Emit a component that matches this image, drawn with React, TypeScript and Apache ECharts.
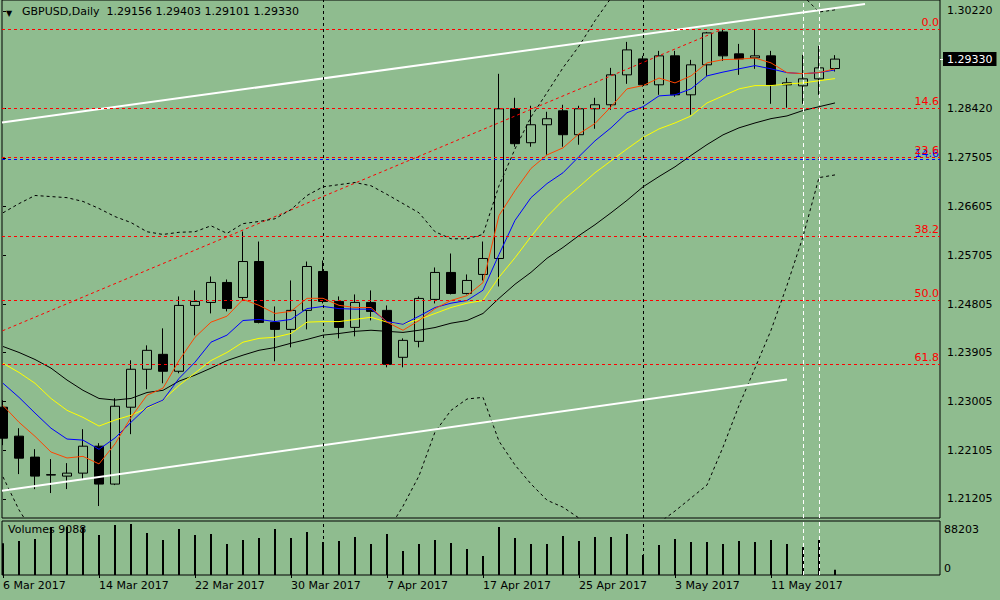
import React, { useEffect, useRef } from "react";
import * as echarts from "echarts";

const FONT = '"DejaVu Sans", sans-serif';

const dates = [
  "6 Mar 2017","7 Mar 2017","8 Mar 2017","9 Mar 2017","10 Mar 2017",
  "13 Mar 2017","14 Mar 2017","15 Mar 2017","16 Mar 2017","17 Mar 2017",
  "20 Mar 2017","21 Mar 2017","22 Mar 2017","23 Mar 2017","24 Mar 2017",
  "27 Mar 2017","28 Mar 2017","29 Mar 2017","30 Mar 2017","31 Mar 2017",
  "3 Apr 2017","4 Apr 2017","5 Apr 2017","6 Apr 2017","7 Apr 2017",
  "10 Apr 2017","11 Apr 2017","12 Apr 2017","13 Apr 2017","14 Apr 2017",
  "17 Apr 2017","18 Apr 2017","19 Apr 2017","20 Apr 2017","21 Apr 2017",
  "24 Apr 2017","25 Apr 2017","26 Apr 2017","27 Apr 2017","28 Apr 2017",
  "1 May 2017","2 May 2017","3 May 2017","4 May 2017","5 May 2017",
  "8 May 2017","9 May 2017","10 May 2017","11 May 2017","12 May 2017",
  "15 May 2017","16 May 2017","17 May 2017",
];
const dateTicks = [0, 6, 12, 18, 24, 30, 36, 42, 48];

const open = [1.22898,1.22363,1.21976,1.21644,1.21625,1.2168,1.22178,1.21478,1.22898,1.23599,1.23875,1.23562,1.24779,1.24834,1.25203,1.24926,1.2559,1.24465,1.24336,1.24687,1.25406,1.24853,1.24373,1.24834,1.24687,1.2382,1.24115,1.2489,1.25388,1.25,1.25351,1.25646,1.28412,1.27785,1.28117,1.28375,1.27933,1.28412,1.28486,1.29039,1.29334,1.28855,1.2939,1.2867,1.29224,1.29832,1.29427,1.29353,1.2939,1.28855,1.28836,1.28965,1.29156];
const high = [1.23027,1.2251,1.22123,1.21939,1.21865,1.22492,1.22234,1.23064,1.23765,1.24041,1.24355,1.24945,1.25056,1.25314,1.25258,1.26144,1.25959,1.2476,1.2524,1.2559,1.25609,1.24945,1.24982,1.25056,1.24779,1.2417,1.24945,1.2548,1.25738,1.25351,1.25959,1.29058,1.28615,1.28468,1.28357,1.28486,1.28468,1.28615,1.29168,1.29648,1.2939,1.29482,1.29482,1.29316,1.29832,1.29869,1.29611,1.29888,1.29482,1.28984,1.29408,1.29574,1.29403];
const low = [1.22197,1.21662,1.21385,1.21312,1.21385,1.2157,1.21072,1.21459,1.224,1.2323,1.2334,1.23525,1.24226,1.24631,1.24668,1.24871,1.24447,1.23746,1.24004,1.24336,1.24816,1.2417,1.24207,1.24502,1.23635,1.23635,1.24004,1.24816,1.24982,1.24982,1.2524,1.25129,1.27711,1.27711,1.27564,1.27711,1.27748,1.28043,1.28394,1.28873,1.28818,1.2867,1.28634,1.28302,1.29021,1.29297,1.29039,1.2915,1.28504,1.28431,1.28504,1.2867,1.29101];
const close = [1.22326,1.21957,1.21625,1.21653,1.2168,1.22178,1.21478,1.22916,1.23599,1.23949,1.23562,1.24779,1.24853,1.25203,1.24724,1.2559,1.24465,1.24336,1.24687,1.25498,1.24853,1.24373,1.24834,1.24668,1.23691,1.24133,1.24908,1.25388,1.25,1.2524,1.25646,1.28412,1.27767,1.28117,1.28228,1.27933,1.28412,1.28486,1.29039,1.295,1.28855,1.2939,1.2867,1.29224,1.29814,1.2939,1.29334,1.2939,1.28855,1.28892,1.28965,1.29168,1.2933];

const volumes = [54800,58800,62200,83000,83000,83000,69200,86450,88203,72600,60500,79500,69200,70900,53600,60500,64000,79500,64000,74300,57000,58800,65700,53600,70900,41500,53600,60500,55300,45000,32900,83000,64000,53600,53600,67400,58800,65700,65700,70900,34600,51900,62200,57000,57000,53600,58800,57000,60500,53600,48400,60500,9088];

const maRed = [1.2293,1.2262,1.2236,1.2207,1.2196,1.2199,1.2185,1.2222,1.2271,1.2312,1.2325,1.2376,1.2419,1.2447,1.2458,1.2489,1.2478,1.2463,1.2467,1.2491,1.2491,1.2478,1.2474,1.2474,1.2447,1.2432,1.245,1.2472,1.2487,1.2496,1.252,1.2644,1.269,1.2731,1.2756,1.2769,1.2795,1.2814,1.2845,1.2878,1.2884,1.2898,1.2889,1.2902,1.2926,1.2932,1.2933,1.2935,1.2926,1.2908,1.2906,1.2908,1.2915];
const maBlue = [1.2334,1.2308,1.2279,1.2251,1.2231,1.2229,1.2212,1.2233,1.2262,1.229,1.2303,1.2343,1.2373,1.241,1.2423,1.245,1.2452,1.2448,1.2452,1.2472,1.2476,1.2472,1.2471,1.2471,1.2448,1.2443,1.2458,1.2474,1.2482,1.2487,1.2506,1.2572,1.2635,1.2677,1.2703,1.2723,1.2753,1.2782,1.2806,1.2834,1.2845,1.2865,1.2867,1.2878,1.2902,1.2909,1.2915,1.2921,1.2915,1.2908,1.2906,1.2908,1.2913];
const maYellow = [1.2371,1.2354,1.2334,1.2306,1.2284,1.2271,1.2255,1.2266,1.2275,1.2288,1.2303,1.233,1.2353,1.2376,1.2391,1.241,1.2417,1.2419,1.2426,1.2447,1.2448,1.2448,1.2452,1.2456,1.2447,1.2443,1.2452,1.2463,1.2474,1.2482,1.2487,1.253,1.2566,1.2605,1.2642,1.2672,1.2697,1.2723,1.2745,1.2767,1.2788,1.2804,1.2815,1.2828,1.2852,1.2865,1.2878,1.2884,1.2884,1.2887,1.2889,1.2893,1.2897];
const maBlack = [1.2402,1.2391,1.2378,1.2362,1.234,1.2321,1.2306,1.2303,1.2306,1.2317,1.2321,1.2338,1.2349,1.2362,1.2376,1.2386,1.2395,1.24,1.2408,1.2415,1.2423,1.2426,1.243,1.2432,1.243,1.2428,1.2432,1.2437,1.2445,1.245,1.2463,1.2491,1.2517,1.2539,1.2565,1.2585,1.2607,1.2627,1.2649,1.2672,1.2697,1.2716,1.2734,1.2755,1.2775,1.2793,1.2806,1.2815,1.2823,1.2828,1.2838,1.2845,1.2852];
const bbUpper = [1.2649,1.2666,1.2681,1.2679,1.2677,1.267,1.2657,1.2642,1.2631,1.2614,1.2609,1.2613,1.2614,1.2625,1.2611,1.2629,1.2633,1.2638,1.2655,1.2681,1.2697,1.2701,1.2705,1.2699,1.2683,1.2666,1.2649,1.2614,1.2601,1.2601,1.2609,1.2699,1.2767,1.2826,1.2871,1.2917,1.2957,1.3004,1.3046,null,null,null,null,null,null,null,null,null,null,null,1.305,1.302,1.3024];
const bbLower = [1.2161,1.21,1.2054,null,null,null,null,null,null,null,null,null,null,null,null,null,null,null,null,null,null,null,null,null,1.2059,1.2107,1.2163,1.2244,1.2284,1.2305,1.2308,1.2227,1.2183,1.2148,1.2118,1.2105,1.2085,1.2067,null,null,null,1.2076,1.2098,1.2122,1.2146,1.2216,1.2293,1.2362,1.2432,1.2515,1.2605,1.2714,1.2719];

const fibLevels = [1.29888, 1.28423, 1.2752, 1.26055, 1.24872, 1.23688];
const fibLabels = ["0.0", "14.6", "23.6", "38.2", "50.0", "61.8"];
const blueLevel = 1.27472;
const blueLabel = "14.6";
const fibDiagonal = [[-36, 1.19855], [45, 1.29888]];
const upperTrend = [[-0.0625, 1.28159], [53.875, 1.30349]];
const lowerTrend = [[-0.0625, 1.21354], [49, 1.23409]];
const periodSeparators = [20, 40];
const whiteMarkers = [50, 51];
const priceTicks = [1.21205, 1.22105, 1.23005, 1.23905, 1.24805, 1.25705, 1.26605, 1.27505, 1.2842, 1.3022];
const lastClose = 1.2933;
const headerText = "GBPUSD,Daily  1.29156 1.29403 1.29101 1.29330";
const volumeLabel = "Volumes 9088";

const xs = (arr: (number | null)[]) => arr.map((v, i) => (v == null ? [i, "-"] : [i, v]));

export default function App() {
  const ref = useRef<HTMLDivElement>(null);
  useEffect(() => {
    if (!ref.current) return;
    const chart = echarts.init(ref.current, null, { renderer: "svg" });
    const vMark = (color: string, type: number[]) => ({ color, type, width: 1 });
    const priceAxisBase = {
      type: "value", gridIndex: 0, position: "right", min: 1.20851, max: 1.30422,
      splitLine: { show: false }, axisLine: { show: false },
    };
    const option: any = {
      animation: false,
      backgroundColor: "#8FBC8F",
      textStyle: { fontFamily: FONT },
      grid: [
        { left: 2, top: -1, width: 938, height: 519, show: true, borderColor: "#000", borderWidth: 1, backgroundColor: "transparent" },
        { left: 2, top: 521, width: 938, height: 54, show: true, borderColor: "#000", borderWidth: 1, backgroundColor: "transparent" },
      ],
      xAxis: [
        { type: "value", gridIndex: 0, min: -0.0625, max: 58.5625, show: false },
        {
          type: "value", gridIndex: 1, min: -0.0625, max: 58.5625,
          axisLine: { show: false }, splitLine: { show: false },
          axisTick: { show: true, length: 3, customValues: dateTicks, lineStyle: { color: "#000" } },
          axisLabel: {
            customValues: dateTicks, formatter: (v: number) => dates[Math.round(v)] || "",
            align: "left", color: "#000", fontSize: 11, fontFamily: FONT, margin: 5,
          },
        },
      ],
      yAxis: [
        {
          ...priceAxisBase,
          axisTick: { show: true, length: 3, inside: false, customValues: priceTicks, lineStyle: { color: "#000" } },
          axisLabel: { customValues: priceTicks, formatter: (v: number) => v.toFixed(5), color: "#000", fontSize: 11, fontFamily: FONT, margin: 7 },
        },
        {
          type: "value", gridIndex: 1, position: "right", min: 0, max: 93400,
          splitLine: { show: false }, axisLine: { show: false }, axisTick: { show: false },
          axisLabel: {
            customValues: [0, 88203],
            formatter: (v: number) => (v === 0 ? "{b|0}" : "{t|88203}"),
            margin: 4,
            rich: {
              t: { padding: [10, 0, 0, 0], fontSize: 11, color: "#000", fontFamily: FONT },
              b: { padding: [0, 0, 14, 0], fontSize: 11, color: "#000", fontFamily: FONT },
            },
          },
        },
        {
          ...priceAxisBase,
          axisTick: { show: true, length: 3, inside: false, customValues: [lastClose], lineStyle: { color: "#FFFFFF" } },
          axisLabel: {
            customValues: [lastClose], formatter: (v: number) => v.toFixed(5),
            color: "#FFFFFF", backgroundColor: "#000", padding: [2, 4, 1, 4],
            fontSize: 11, fontFamily: FONT, margin: 3,
          },
        },
      ],
      graphic: [
        { type: "text", left: 6, top: 9, style: { text: "▼", fontSize: 8, fill: "#000", fontFamily: FONT } },
        { type: "text", left: 22, top: 6, style: { text: headerText, fontSize: 11, fill: "#000", fontFamily: FONT } },
        { type: "text", left: 8, top: 524, style: { text: volumeLabel, fontSize: 11, fill: "#000", fontFamily: FONT } },
      ],
      series: [
        {
          type: "candlestick", xAxisIndex: 0, yAxisIndex: 0,
          data: open.map((o, i) => [i, o, close[i], low[i], high[i]]),
          encode: { x: 0, y: [1, 2, 3, 4] },
          barWidth: 10,
          itemStyle: { color: "#8FBC8F", color0: "#000", borderColor: "#000", borderColor0: "#000", borderWidth: 1 },
          markLine: {
            silent: true, symbol: ["none", "none"], precision: 5,
            lineStyle: { color: "#FF0000", type: [3, 3], width: 1 },
            label: { show: true, position: "insideEndTop", color: "#FF0000", fontSize: 11, fontFamily: FONT, distance: 1 },
            data: [
              { yAxis: blueLevel, lineStyle: { color: "#0000FF", type: [3, 3], width: 1 }, label: { formatter: blueLabel, color: "#0000FF" } },
              ...fibLevels.map((lv, k) => ({ yAxis: lv, label: { formatter: fibLabels[k] } })),
              ...periodSeparators.map((x) => ({ xAxis: x, lineStyle: vMark("#000", [3, 3]), label: { show: false } })),
              ...whiteMarkers.map((x) => ({ xAxis: x, lineStyle: vMark("#FFFFFF", [4, 3]), label: { show: false } })),
            ],
          },
        },
        { type: "line", name: "fibDiag", data: fibDiagonal, showSymbol: false, silent: true, lineStyle: { color: "#FF0000", width: 1, type: [3, 3] } },
        { type: "line", name: "bbU", data: xs(bbUpper), showSymbol: false, silent: true, lineStyle: { color: "#000", width: 1, type: [3, 3] } },
        { type: "line", name: "bbL", data: xs(bbLower), showSymbol: false, silent: true, lineStyle: { color: "#000", width: 1, type: [3, 3] } },
        { type: "line", name: "maBlack", data: xs(maBlack), showSymbol: false, silent: true, lineStyle: { color: "#000", width: 1 } },
        { type: "line", name: "maYellow", data: xs(maYellow), showSymbol: false, silent: true, lineStyle: { color: "#FFFF00", width: 1 } },
        { type: "line", name: "maBlue", data: xs(maBlue), showSymbol: false, silent: true, lineStyle: { color: "#0000FF", width: 1 } },
        { type: "line", name: "maRed", data: xs(maRed), showSymbol: false, silent: true, lineStyle: { color: "#FF4500", width: 1 } },
        { type: "line", name: "trendUp", data: upperTrend, showSymbol: false, silent: true, lineStyle: { color: "#FFFFFF", width: 2 } },
        { type: "line", name: "trendLow", data: lowerTrend, showSymbol: false, silent: true, lineStyle: { color: "#FFFFFF", width: 2 } },
        {
          type: "bar", xAxisIndex: 1, yAxisIndex: 1, barWidth: 2,
          data: volumes.map((v, i) => [i, v]),
          itemStyle: { color: "#000" },
          markLine: {
            silent: true, symbol: ["none", "none"], label: { show: false }, precision: 5,
            data: [
              ...periodSeparators.map((x) => ({ xAxis: x, lineStyle: vMark("#000", [3, 3]) })),
              ...whiteMarkers.map((x) => ({ xAxis: x, lineStyle: vMark("#FFFFFF", [4, 3]) })),
            ],
          },
          z: 3,
        },
      ],
    };
    chart.setOption(option);
    return () => chart.dispose();
  }, []);
  return (
    <div
      ref={ref}
      style={{ position: "fixed", left: 0, top: 0, width: 1000, height: 600, background: "#8FBC8F" }}
    />
  );
}
